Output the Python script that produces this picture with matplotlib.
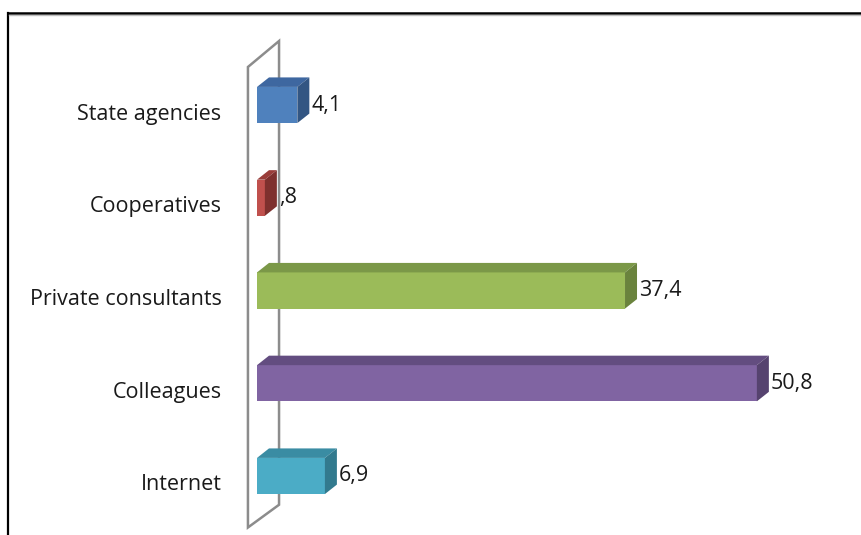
import matplotlib.pyplot as plt
from matplotlib.patches import Polygon
from matplotlib.lines import Line2D

categories = ['Internet', 'Colleagues', 'Private consultants', 'Cooperatives', 'State agencies']
values = [6.9, 50.8, 37.4, 0.8, 4.1]
value_labels = ['6,9', '50,8', '37,4', ',8', '4,1']

# front / top / side shades for each bar
front = ['#4BACC6', '#8064A2', '#9BBB59', '#C0504D', '#4F81BD']
top = ['#3A8CA3', '#634D80', '#7B9848', '#9A3D3A', '#3E67A0']
side = ['#327A8E', '#56436F', '#6A833D', '#7E302E', '#335683']

W, H = 861, 535
fig = plt.figure(figsize=(W / 100, H / 100), dpi=100)

# axes placed so that value 0 sits at x=257px and the categories are ~93px apart
px_per_unit = 9.84
x0_px = 257
x1_px = 847
y_top_px, y_bot_px = 30, 530
step_px = 92.75
y_internet_px = 476
ax = fig.add_axes([x0_px / W, 1 - y_bot_px / H, (x1_px - x0_px) / W, (y_bot_px - y_top_px) / H])
ax.set_xlim(0, (x1_px - x0_px) / px_per_unit)
ax.set_ylim((y_internet_px - y_bot_px) / step_px, (y_internet_px - y_top_px) / step_px)
ax.axis('off')

half = 0.195          # half bar thickness in category units
dx = 12 / px_per_unit  # depth offset
dy = 9.5 / step_px
label_drop = 9 / step_px  # category labels sit a little below the bar centres

# side wall behind the bars
wx0, wx1 = -0.92, 2.24
wall = Polygon([(wx0, -0.555), (wx0, 4.41), (wx1, 4.69), (wx1, -0.31)],
               closed=True, facecolor='white', edgecolor='#8c8c8c', lw=1.8,
               clip_on=False, zorder=1)
ax.add_patch(wall)

for i, v in enumerate(values):
    y = i
    f = Polygon([(0, y - half), (v, y - half), (v, y + half), (0, y + half)],
                facecolor=front[i], edgecolor='none', zorder=3, clip_on=False)
    t = Polygon([(0, y + half), (v, y + half), (v + dx, y + half + dy), (dx, y + half + dy)],
                facecolor=top[i], edgecolor='none', zorder=3, clip_on=False)
    s = Polygon([(v, y - half), (v + dx, y - half + dy), (v + dx, y + half + dy), (v, y + half)],
                facecolor=side[i], edgecolor='none', zorder=3, clip_on=False)
    for p in (f, t, s):
        ax.add_patch(p)
    ax.text(v + dx + 0.2, y, value_labels[i], ha='left', va='center',
            fontsize=15.5, family='Open Sans', color='#1a1a1a', zorder=4)
    ax.text(-3.6, y - label_drop, categories[i], ha='right', va='center',
            fontsize=15.5, family='Open Sans', color='#1a1a1a', zorder=4)

# chart frame (top and left edges)
fig.add_artist(Line2D([7.5 / W, 7.5 / W], [0, 1 - 12.5 / H], color='black', lw=1.6))
fig.add_artist(Line2D([7.5 / W, 1], [1 - 12.5 / H, 1 - 12.5 / H], color='black', lw=1.8))
fig.add_artist(Line2D([9 / W, 1], [1 - 14.5 / H, 1 - 14.5 / H], color='#bfbfbf', lw=1.0))

fig.savefig('out.png', dpi=100)
